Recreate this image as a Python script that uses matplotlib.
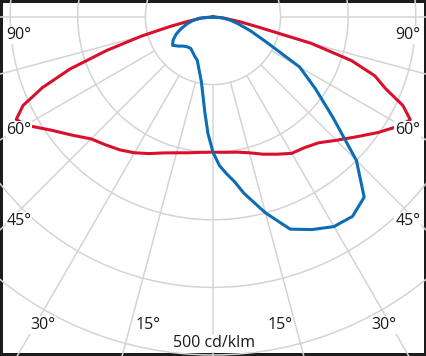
#!/usr/bin/env python3
"""
plot.py — 配光曲線 (cd/klm) の極座標図を再現する．

Outputs:
    out.png
"""

import numpy as np
import matplotlib.pyplot as plt
from matplotlib.patches import Circle

plt.rcParams["font.family"] = ["Open Sans", "DejaVu Sans"]

# --------------------------------------------------------------------------- #
# カラー設定
# --------------------------------------------------------------------------- #
COLOR_GRID = "#d4d4d4"
COLOR_C0 = "#d8102c"
COLOR_C90 = "#0b6db3"
COLOR_FRAME = "#1c1c1c"

# --------------------------------------------------------------------------- #
# データ (角度は鉛直下向きから，右側を正)
# --------------------------------------------------------------------------- #
C0_GAMMA = [-90, -85, -80, -77.5, -75, -72.5, -70, -67.5, -65, -62.5, -60,
            -55, -50, -45, -40, -35, -30, -25, -20, -15, -10, -5, 0,
            5, 10, 15, 20, 25, 30, 35, 40, 45, 50, 55, 60,
            62.5, 65, 67.5, 70, 72.5, 75, 77.5, 80, 85, 90]
C0_VALUES = [0, 15, 38, 65, 110, 165, 225, 273, 310, 328, 320,
             292, 272, 255, 247, 240, 232, 223, 214, 208, 204, 201, 200,
             201, 203, 208, 216, 224, 233, 236, 243, 258, 276, 298, 321,
             329, 310, 276, 255, 215, 150, 68, 40, 15, 0]

C90_GAMMA = [-90, -85, -80, -75, -70, -65, -60, -55, -50, -45, -40, -35,
             -30, -25, -20, -15, -10, -5, -2.5, 0, 2.5, 5, 7.5, 10, 15,
             20, 25, 30, 35, 40, 45, 50, 55, 60, 65, 70, 75, 80, 85, 90]
C90_VALUES = [0, 20, 30, 40, 50, 60, 68, 73, 67, 61, 58, 57,
              60, 64, 68, 80, 98, 140, 172, 200, 220, 233, 246, 265, 300,
              334, 347, 358, 360, 348, 300, 232, 185, 148, 86, 58, 38, 25, 12, 0]

RING_VALUES = [100, 200, 300, 400, 500, 600]
SPOKE_ANGLES = [-90, -75, -60, -45, -30, -15, 0, 15, 30, 45, 60, 75, 90]

ANGLE_LABELS = ["90°", "60°", "45°", "30°", "15°"]
UNIT_LABEL = "500 cd/klm"


def to_xy(gamma, value):
    g = np.radians(np.asarray(gamma, dtype=float))
    v = np.asarray(value, dtype=float)
    return v * np.sin(g), -v * np.cos(g)


# --------------------------------------------------------------------------- #
# 描画
# --------------------------------------------------------------------------- #
fig = plt.figure(figsize=(4.27, 3.56), dpi=100)
ax = fig.add_axes([0, 0, 1, 1])
ax.set_xlim(-315, 316.6)
ax.set_ylim(-501.5, 25.1)
ax.set_aspect("equal")
ax.axis("off")

# 同心円
for r in RING_VALUES:
    ax.add_patch(Circle((0, 0), r, fill=False, ec=COLOR_GRID, lw=1.1, zorder=1))

# 放射線 (内側の円から外へ)
for a in SPOKE_ANGLES:
    x, y = to_xy([a, a], [100, 900])
    ax.plot(x, y, color=COLOR_GRID, lw=1.1, zorder=1)

# 配光曲線
x, y = to_xy(C0_GAMMA, C0_VALUES)
ax.plot(x, y, color=COLOR_C0, lw=2.2, solid_joinstyle="round", zorder=3)
x, y = to_xy(C90_GAMMA, C90_VALUES)
ax.plot(x, y, color=COLOR_C90, lw=2.2, solid_joinstyle="round", zorder=4)

# 角度ラベル
label_pos = {
    "90°": [(-287, -27), (288, -27)],
    "60°": [(-287, -167), (288, -167)],
    "45°": [(-287, -302), (288, -302)],
    "30°": [(-252, -456), (253, -456)],
    "15°": [(-96, -456), (99, -456)],
}
box = dict(boxstyle="square,pad=0.05", fc="white", ec="none")
for lab in ANGLE_LABELS:
    for px, py in label_pos[lab]:
        ax.text(px, py, lab, fontsize=11.5, color="#1a1a1a", ha="center",
                va="center", bbox=box, zorder=5)
ax.text(1.5, -482, UNIT_LABEL, fontsize=11.5, color="#1a1a1a", ha="center",
        va="center", bbox=box, zorder=5)

# 外枠
fig.patch.set_edgecolor(COLOR_FRAME)
fig.patch.set_linewidth(3.0)

fig.savefig("out.png", dpi=100, facecolor="white", edgecolor=COLOR_FRAME)
